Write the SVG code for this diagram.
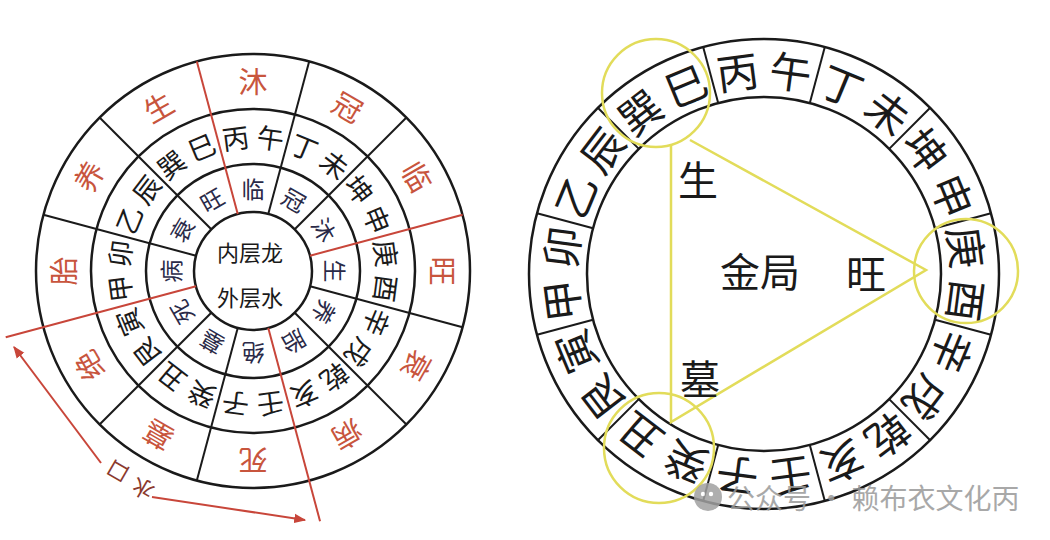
<svg xmlns="http://www.w3.org/2000/svg" width="1050" height="540" viewBox="0 0 1050 540">
<style>
.bg{fill:#ffffff}
.ring{fill:none;stroke:#1a1a1a;stroke-width:2.5}
.div{stroke:#1a1a1a;stroke-width:2}
.red{stroke:#c8463a;stroke-width:2}
text{font-family:"Noto Sans CJK SC","Noto Sans CJK JP",sans-serif;text-anchor:middle;dominant-baseline:central}
.stage{font-size:29px;fill:#c8553d}
.mtn{font-size:27px;fill:#1a1a1a}
.inr{font-size:23px;fill:#2a2a48}
.ctr{font-size:22px;fill:#1a1a1a}
.big{font-size:42px;fill:#1a1a1a}
.mid{font-size:40px;fill:#1a1a1a}
.lab{font-size:22px;fill:#8b3a2e}
.yl{fill:none;stroke:#e2dc5a;stroke-width:2.5}
.wm{font-size:28px;fill:#9a9a9a;text-anchor:start}
</style>
<defs>
<marker id="ah" viewBox="0 0 10 10" refX="9" refY="5" markerUnits="userSpaceOnUse" markerWidth="12" markerHeight="12" orient="auto"><path d="M0,1 L10,5 L0,9 z" fill="#c8463a"/></marker>
</defs>
<rect class="bg" x="0" y="0" width="1050" height="540"/>

<g id="left-chart" transform="translate(253,271)">
<circle class="ring" r="217"/>
<circle class="ring" r="162"/>
<circle class="ring" r="107"/>
<circle class="ring" r="59"/>
<g id="left-dividers">
<line class="div" x1="0" y1="-59" x2="0" y2="-217" transform="rotate(15)"/>
<line class="div" x1="0" y1="-59" x2="0" y2="-217" transform="rotate(45)"/>
<line class="div" x1="0" y1="-59" x2="0" y2="-217" transform="rotate(105)"/>
<line class="div" x1="0" y1="-59" x2="0" y2="-217" transform="rotate(135)"/>
<line class="div" x1="0" y1="-59" x2="0" y2="-217" transform="rotate(195)"/>
<line class="div" x1="0" y1="-59" x2="0" y2="-217" transform="rotate(225)"/>
<line class="div" x1="0" y1="-59" x2="0" y2="-217" transform="rotate(285)"/>
<line class="div" x1="0" y1="-59" x2="0" y2="-217" transform="rotate(315)"/>
<line class="red" x1="0" y1="-59" x2="0" y2="-217" transform="rotate(345)"/>
<line class="red" x1="0" y1="-59" x2="0" y2="-217" transform="rotate(75)"/>
<line class="red" x1="0" y1="-59" x2="0" y2="-259" transform="rotate(165)"/>
<line class="red" x1="0" y1="-59" x2="0" y2="-256" transform="rotate(255)"/>
</g>
<g id="outer-stages">
<text class="stage" transform="rotate(0) translate(0,-191)">沐</text>
<text class="stage" transform="rotate(30) translate(0,-191)">冠</text>
<text class="stage" transform="rotate(60) translate(0,-191)">临</text>
<text class="stage" transform="rotate(90) translate(0,-191)">旺</text>
<text class="stage" transform="rotate(120) translate(0,-191)">衰</text>
<text class="stage" transform="rotate(150) translate(0,-191)">病</text>
<text class="stage" transform="rotate(180) translate(0,-191)">死</text>
<text class="stage" transform="rotate(210) translate(0,-191)">墓</text>
<text class="stage" transform="rotate(240) translate(0,-191)">绝</text>
<text class="stage" transform="rotate(270) translate(0,-191)">胎</text>
<text class="stage" transform="rotate(300) translate(0,-191)">养</text>
<text class="stage" transform="rotate(330) translate(0,-191)">生</text>
</g>
<g id="middle-mountains">
<text class="mtn" transform="rotate(-7.5) translate(0,-135)">丙</text>
<text class="mtn" transform="rotate(7.5) translate(0,-135)">午</text>
<text class="mtn" transform="rotate(22.5) translate(0,-135)">丁</text>
<text class="mtn" transform="rotate(37.5) translate(0,-135)">未</text>
<text class="mtn" transform="rotate(52.5) translate(0,-135)">坤</text>
<text class="mtn" transform="rotate(67.5) translate(0,-135)">申</text>
<text class="mtn" transform="rotate(82.5) translate(0,-135)">庚</text>
<text class="mtn" transform="rotate(97.5) translate(0,-135)">酉</text>
<text class="mtn" transform="rotate(112.5) translate(0,-135)">辛</text>
<text class="mtn" transform="rotate(127.5) translate(0,-135)">戌</text>
<text class="mtn" transform="rotate(142.5) translate(0,-135)">乾</text>
<text class="mtn" transform="rotate(157.5) translate(0,-135)">亥</text>
<text class="mtn" transform="rotate(172.5) translate(0,-135)">壬</text>
<text class="mtn" transform="rotate(187.5) translate(0,-135)">子</text>
<text class="mtn" transform="rotate(202.5) translate(0,-135)">癸</text>
<text class="mtn" transform="rotate(217.5) translate(0,-135)">丑</text>
<text class="mtn" transform="rotate(232.5) translate(0,-135)">艮</text>
<text class="mtn" transform="rotate(247.5) translate(0,-135)">寅</text>
<text class="mtn" transform="rotate(262.5) translate(0,-135)">甲</text>
<text class="mtn" transform="rotate(277.5) translate(0,-135)">卯</text>
<text class="mtn" transform="rotate(292.5) translate(0,-135)">乙</text>
<text class="mtn" transform="rotate(307.5) translate(0,-135)">辰</text>
<text class="mtn" transform="rotate(322.5) translate(0,-135)">巽</text>
<text class="mtn" transform="rotate(337.5) translate(0,-135)">巳</text>
</g>
<g id="inner-stages">
<text class="inr" transform="rotate(0) translate(0,-83)">临</text>
<text class="inr" transform="rotate(30) translate(0,-83)">冠</text>
<text class="inr" transform="rotate(60) translate(0,-83)">沐</text>
<text class="inr" transform="rotate(90) translate(0,-83)">生</text>
<text class="inr" transform="rotate(120) translate(0,-83)">养</text>
<text class="inr" transform="rotate(150) translate(0,-83)">胎</text>
<text class="inr" transform="rotate(180) translate(0,-83)">绝</text>
<text class="inr" transform="rotate(210) translate(0,-83)">墓</text>
<text class="inr" transform="rotate(240) translate(0,-83)">死</text>
<text class="inr" transform="rotate(270) translate(0,-83)">病</text>
<text class="inr" transform="rotate(300) translate(0,-83)">衰</text>
<text class="inr" transform="rotate(330) translate(0,-83)">旺</text>
</g>
<g id="center-label">
<text class="ctr" x="-3" y="-20">内层龙</text>
<text class="ctr" x="-3" y="25">外层水</text>
</g>
</g>

<g id="connectors">
<line class="red" x1="101" y1="463" x2="14" y2="347" marker-end="url(#ah)"/>
<line class="red" x1="152" y1="497" x2="305" y2="520" marker-end="url(#ah)"/>
</g>
<g id="water-label">
<text class="lab" transform="translate(117,473) rotate(210)">口</text>
<text class="lab" transform="translate(142,490) rotate(210)">水</text>
</g>

<g id="right-chart" transform="translate(764,274)">
<circle class="ring" r="235"/>
<circle class="ring" r="177"/>
<g id="right-dividers">
<line class="div" x1="0" y1="-177" x2="0" y2="-235" transform="rotate(15)"/>
<line class="div" x1="0" y1="-177" x2="0" y2="-235" transform="rotate(45)"/>
<line class="div" x1="0" y1="-177" x2="0" y2="-235" transform="rotate(75)"/>
<line class="div" x1="0" y1="-177" x2="0" y2="-235" transform="rotate(105)"/>
<line class="div" x1="0" y1="-177" x2="0" y2="-235" transform="rotate(135)"/>
<line class="div" x1="0" y1="-177" x2="0" y2="-235" transform="rotate(165)"/>
<line class="div" x1="0" y1="-177" x2="0" y2="-235" transform="rotate(195)"/>
<line class="div" x1="0" y1="-177" x2="0" y2="-235" transform="rotate(225)"/>
<line class="div" x1="0" y1="-177" x2="0" y2="-235" transform="rotate(255)"/>
<line class="div" x1="0" y1="-177" x2="0" y2="-235" transform="rotate(285)"/>
<line class="div" x1="0" y1="-177" x2="0" y2="-235" transform="rotate(315)"/>
<line class="div" x1="0" y1="-177" x2="0" y2="-235" transform="rotate(345)"/>
</g>
<g id="right-mountains">
<text class="big" transform="rotate(-7.5) translate(0,-206)">丙</text>
<text class="big" transform="rotate(7.5) translate(0,-206)">午</text>
<text class="big" transform="rotate(22.5) translate(0,-206)">丁</text>
<text class="big" transform="rotate(37.5) translate(0,-206)">未</text>
<text class="big" transform="rotate(52.5) translate(0,-206)">坤</text>
<text class="big" transform="rotate(67.5) translate(0,-206)">申</text>
<text class="big" transform="rotate(82.5) translate(0,-206)">庚</text>
<text class="big" transform="rotate(97.5) translate(0,-206)">酉</text>
<text class="big" transform="rotate(112.5) translate(0,-206)">辛</text>
<text class="big" transform="rotate(127.5) translate(0,-206)">戌</text>
<text class="big" transform="rotate(142.5) translate(0,-206)">乾</text>
<text class="big" transform="rotate(157.5) translate(0,-206)">亥</text>
<text class="big" transform="rotate(172.5) translate(0,-206)">壬</text>
<text class="big" transform="rotate(187.5) translate(0,-206)">子</text>
<text class="big" transform="rotate(202.5) translate(0,-206)">癸</text>
<text class="big" transform="rotate(217.5) translate(0,-206)">丑</text>
<text class="big" transform="rotate(232.5) translate(0,-206)">艮</text>
<text class="big" transform="rotate(247.5) translate(0,-206)">寅</text>
<text class="big" transform="rotate(262.5) translate(0,-206)">甲</text>
<text class="big" transform="rotate(277.5) translate(0,-206)">卯</text>
<text class="big" transform="rotate(292.5) translate(0,-206)">乙</text>
<text class="big" transform="rotate(307.5) translate(0,-206)">辰</text>
<text class="big" transform="rotate(322.5) translate(0,-206)">巽</text>
<text class="big" transform="rotate(337.5) translate(0,-206)">巳</text>
</g>
</g>

<g id="metal-triangle">
<circle class="yl" cx="656" cy="93" r="54"/>
<circle class="yl" cx="966" cy="271" r="52"/>
<circle class="yl" cx="659" cy="448" r="55"/>
<path class="yl" d="M671,146 L671,422 L926,270 L690,140"/>
</g>
<g id="triangle-labels">
<text class="mid" x="698" y="178">生</text>
<text class="mid" x="760" y="270">金局</text>
<text class="mid" x="866" y="272">旺</text>
<text class="mid" x="700" y="377">墓</text>
</g>

<g id="watermark" opacity="0.85">
<circle cx="708" cy="497" r="14" fill="#a0a0a0"/>
<circle cx="703" cy="494" r="2.2" fill="#ffffff"/>
<circle cx="711" cy="494" r="2.2" fill="#ffffff"/>
<text class="wm" x="727" y="497">公众号 · 赖布衣文化丙</text>
</g>
</svg>
